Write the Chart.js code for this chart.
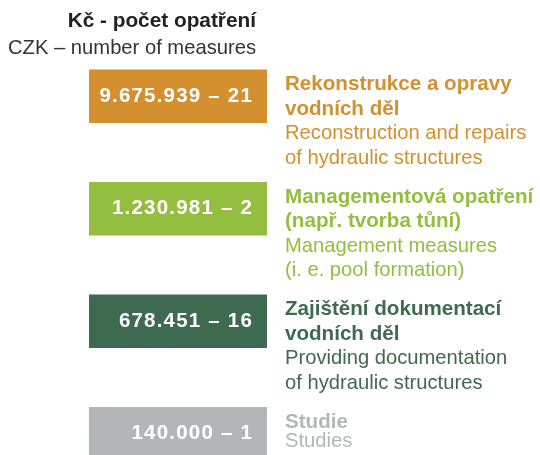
<!DOCTYPE html>
<html>
<head>
<meta charset="utf-8">
<script src="https://cdn.jsdelivr.net/npm/chart.js@4/dist/chart.umd.min.js"></script>
<style>
  html, body { margin: 0; padding: 0; background: #fff; overflow: hidden; }
  #chart { display: block; }
</style>
</head>
<body>
<canvas id="chart" width="540" height="490"></canvas>
<script>
// data
const categories = ['Rekonstrukce', 'Management', 'Dokumentace', 'Studie'];
const amountsCzk = [9675939, 1230981, 678451, 140000];
const measureCounts = [21, 2, 16, 1];
const labelsCz = [
  ['Rekonstrukce a opravy', 'vodních děl'],
  ['Managementová opatření', '(např. tvorba tůní)'],
  ['Zajištění dokumentací', 'vodních děl'],
  ['Studie']
];
const labelsEn = [
  ['Reconstruction and repairs', 'of hydraulic structures'],
  ['Management measures', '(i. e. pool formation)'],
  ['Providing documentation', 'of hydraulic structures'],
  ['Studies']
];
// every box is drawn the same length in the original
const boxLength = [1, 1, 1, 1];
const titleCz = 'Kč - počet opatření';
const titleEn = 'CZK – number of measures';

const colors = ['#d48f2f', '#93be3f', '#3e6a4f', '#b2b6b8'];
const FONT = '"Liberation Sans", Arial, sans-serif';

const fmt = n => String(n).replace(/\B(?=(\d{3})+(?!\d))/g, '.');

const labelPlugin = {
  id: 'labels',
  afterDatasetsDraw(chart) {
    const ctx = chart.ctx;
    const meta = chart.getDatasetMeta(0);
    ctx.save();
    // header
    ctx.textAlign = 'right';
    ctx.textBaseline = 'alphabetic';
    ctx.fillStyle = '#222';
    ctx.font = 'bold 20.8px ' + FONT;
    ctx.fillText(titleCz, 256, 27);
    ctx.fillStyle = '#333';
    ctx.font = '20.2px ' + FONT;
    ctx.fillText(titleEn, 256, 54);

    meta.data.forEach((bar, i) => {
      const top = bar.y - bar.height / 2;
      // value inside the box
      ctx.textAlign = 'right';
      ctx.fillStyle = '#fff';
      ctx.font = 'bold 20.5px ' + FONT;
      ctx.letterSpacing = '1.2px';
      ctx.fillText(fmt(amountsCzk[i]) + ' – ' + measureCounts[i], bar.x - 14, top + 32);
      ctx.letterSpacing = '0px';
      // description to the right
      ctx.textAlign = 'left';
      ctx.fillStyle = colors[i];
      const lines = labelsCz[i].length + labelsEn[i].length;
      const gap = lines > 2 ? 24.5 : 19;
      let y = top + 20.5;
      ctx.font = 'bold 20.6px ' + FONT;
      labelsCz[i].forEach(t => { ctx.fillText(t, bar.x + 18, y); y += gap; });
      ctx.font = '20.2px ' + FONT;
      labelsEn[i].forEach(t => { ctx.fillText(t, bar.x + 18, y); y += gap; });
    });
    ctx.restore();
  }
};

new Chart(document.getElementById('chart'), {
  type: 'bar',
  data: {
    labels: categories,
    datasets: [{
      data: boxLength,
      backgroundColor: colors,
      borderWidth: 0,
      barThickness: 53
    }]
  },
  options: {
    indexAxis: 'y',
    responsive: false,
    animation: false,
    devicePixelRatio: 1,
    layout: { padding: { left: 89, right: 273, top: 40, bottom: 0 } },
    scales: {
      x: { display: false, min: 0, max: 1 },
      y: { display: false }
    },
    plugins: {
      legend: { display: false },
      tooltip: { enabled: false }
    }
  },
  plugins: [labelPlugin]
});
</script>
</body>
</html>
